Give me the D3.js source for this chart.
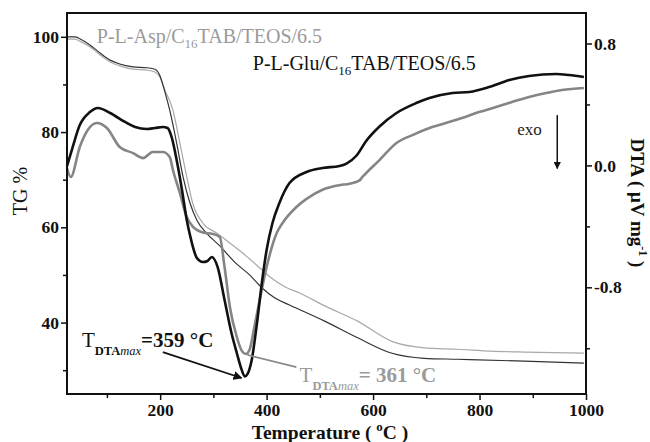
<!DOCTYPE html>
<html lang="en">
<head>
<meta charset="utf-8">
<title>TG / DTA</title>
<script src="https://d3js.org/d3.v7.min.js"></script>
<style>
    body { margin: 0; background: white; }
    text { font-family: "Liberation Serif", "Times New Roman", serif; }
</style>
</head>
<body>
<div id="viz"></div>
<script>

    // data: [temperature in C, value]
    var tgGlu = [[25,100.0],[40,100.0],[49,99.6],[68,98.3],[87,96.6],[106,95.1],[124,94.3],[149,93.7],[175,93.5],
        [190,93.2],[199,92.0],[209,88.4],[218,84.6],[231,77.7],[243,70.6],[256,65.1],[269,61.5],[287,58.8],
        [312,56.1],[340,52.7],[368,50.0],[391,47.3],[415,45.2],[443,43.7],[509,40.3],[571,36.8],[634,33.6],
        [696,32.5],[758,32.3],[884,31.9],[996,31.5]];

    var tgAsp = [[25,99.5],[40,99.5],[49,99.1],[68,97.9],[87,96.2],[106,94.7],[124,93.9],[149,93.2],[175,93.0],
        [190,92.6],[199,91.6],[209,88.8],[224,84.6],[237,77.7],[250,70.6],[261,65.1],[280,60.9],[306,58.8],
        [331,56.7],[355,54.6],[381,52.1],[406,49.6],[434,47.5],[462,46.2],[509,43.5],[571,40.3],[634,36.1],
        [696,34.7],[758,34.4],[822,34.0],[884,33.8],[996,33.6]];

    var dtaGlu = [[25,-0.004],[34,0.101],[49,0.265],[68,0.350],[83,0.377],[106,0.344],[134,0.285],[153,0.252],
        [175,0.239],[190,0.245],[205,0.252],[214,0.245],[222,0.180],[231,0.035],[241,-0.161],[250,-0.358],
        [256,-0.457],[269,-0.608],[280,-0.634],[289,-0.627],[297,-0.601],[308,-0.667],[321,-0.883],[334,-1.100],
        [344,-1.231],[353,-1.34],[359,-1.385],[364,-1.37],[372,-1.277],[381,-1.060],[391,-0.772],[400,-0.555],
        [411,-0.378],[424,-0.247],[443,-0.116],[475,-0.043],[505,-0.017],[537,-0.004],[550,0.012],[569,0.065],
        [587,0.160],[612,0.255],[644,0.344],[681,0.409],[706,0.442],[749,0.475],[781,0.482],[818,0.514],
        [856,0.560],[893,0.587],[944,0.600],[968,0.593],[996,0.580]];

    var dtaAsp = [[25,-0.017],[32,-0.076],[49,0.121],[64,0.232],[81,0.278],[100,0.245],[124,0.121],[149,0.081],
        [168,0.048],[186,0.088],[205,0.088],[218,0.055],[224,-0.030],[237,-0.181],[250,-0.339],[261,-0.40],
        [280,-0.44],[299,-0.45],[312,-0.47],[321,-0.667],[331,-0.929],[344,-1.126],[354,-1.22],[361,-1.238],
        [368,-1.21],[377,-1.060],[387,-0.883],[400,-0.667],[419,-0.444],[430,-0.378],[456,-0.273],[475,-0.22],
        [505,-0.16],[537,-0.13],[556,-0.12],[574,-0.10],[580,-0.076],[612,0.035],[644,0.147],[674,0.199],
        [706,0.245],[737,0.278],[767,0.311],[799,0.350],[831,0.383],[861,0.416],[893,0.449],[925,0.475],
        [955,0.495],[996,0.508]];

    var xMajor = [200, 400, 600, 800, 1000];
    var xMinor = [100, 300, 500, 700, 900];
    var tgMajor = [40, 60, 80, 100];
    var tgMinor = [30, 50, 70, 90];
    var dtaMajor = [0.8, 0.0, -0.8];
    var dtaMinor = [0.4, -0.4, -1.2];

    var width = 650;
    var height = 442;
    var pLeft = 67, pRight = 586, pTop = 13, pBottom = 394;

    var x = d3.scaleLinear().domain([25, 1000]).range([pLeft, pRight]);
    var yTG = d3.scaleLinear().domain([25, 105]).range([pBottom, pTop]);
    var yDTA = d3.scaleLinear().domain([-1.5, 1.0]).range([pBottom, pTop]);

    var svg = d3.select("#viz").append("svg")
        .attr("width", width)
        .attr("height", height);

    svg.append("defs").append("marker")
        .attr("id", "head")
        .attr("viewBox", "0 0 10 10")
        .attr("refX", 9).attr("refY", 5)
        .attr("markerWidth", 5).attr("markerHeight", 5)
        .attr("orient", "auto")
        .append("path")
        .attr("d", "M0,0 L10,5 L0,10 z")
        .attr("fill", "#111");

    // curves
    var lineTG = d3.line().x(d => x(d[0])).y(d => yTG(d[1])).curve(d3.curveMonotoneX);
    var lineDTA = d3.line().x(d => x(d[0])).y(d => yDTA(d[1])).curve(d3.curveMonotoneX);

    svg.append("path").datum(tgAsp).attr("d", lineTG)
        .attr("fill", "none").attr("stroke", "#a8a8a8").attr("stroke-width", 1.2);
    svg.append("path").datum(tgGlu).attr("d", lineTG)
        .attr("fill", "none").attr("stroke", "#333").attr("stroke-width", 1.2);
    svg.append("path").datum(dtaAsp).attr("d", lineDTA)
        .attr("fill", "none").attr("stroke", "#858585").attr("stroke-width", 2.6);
    svg.append("path").datum(dtaGlu).attr("d", lineDTA)
        .attr("fill", "none").attr("stroke", "#111").attr("stroke-width", 2.6);

    // axes
    var fmt = d => d3.format(".1f")(d).replace("\u2212", "-");

    function styleAxis(g) {
        g.select(".domain").remove();
        g.selectAll("line").attr("stroke", "#111").attr("stroke-width", 1.5);
        g.selectAll("text").attr("font-family", "Liberation Serif").attr("font-weight", "bold")
            .attr("font-size", 17.5).attr("fill", "#111");
    }

    svg.append("g").attr("transform", "translate(0," + pBottom + ")")
        .call(d3.axisBottom(x).tickValues(xMajor).tickSize(6).tickPadding(4).tickFormat(d3.format("d")))
        .call(styleAxis);
    svg.append("g").attr("transform", "translate(0," + pBottom + ")")
        .call(d3.axisBottom(x).tickValues(xMinor).tickSize(4).tickFormat(""))
        .call(styleAxis);

    svg.append("g").attr("transform", "translate(" + pLeft + ",0)")
        .call(d3.axisLeft(yTG).tickValues(tgMajor).tickSize(6).tickPadding(2))
        .call(styleAxis);
    svg.append("g").attr("transform", "translate(" + pLeft + ",0)")
        .call(d3.axisLeft(yTG).tickValues(tgMinor).tickSize(4).tickFormat(""))
        .call(styleAxis);

    svg.append("g").attr("transform", "translate(" + pRight + ",0)")
        .call(d3.axisRight(yDTA).tickValues(dtaMajor).tickSize(6).tickPadding(2).tickFormat(fmt))
        .call(styleAxis);
    svg.append("g").attr("transform", "translate(" + pRight + ",0)")
        .call(d3.axisRight(yDTA).tickValues(dtaMinor).tickSize(4).tickFormat(""))
        .call(styleAxis);

    // frame
    svg.append("rect")
        .attr("x", pLeft).attr("y", pTop)
        .attr("width", pRight - pLeft).attr("height", pBottom - pTop)
        .attr("fill", "none").attr("stroke", "#111").attr("stroke-width", 2);

    // axis titles
    svg.append("text")
        .attr("transform", "translate(27,191) rotate(-90)")
        .attr("text-anchor", "middle").attr("font-size", 20).attr("fill", "#111")
        .text("TG %");

    var xt = svg.append("text")
        .attr("x", 330).attr("y", 439)
        .attr("text-anchor", "middle").attr("font-size", 19.5).attr("font-weight", "bold").attr("fill", "#111");
    xt.append("tspan").text("Temperature ( ");
    xt.append("tspan").attr("font-size", 13).attr("dy", -8).text("o");
    xt.append("tspan").attr("dy", 8).text("C )");

    var yt = svg.append("text")
        .attr("transform", "translate(631,203) rotate(90)")
        .attr("text-anchor", "middle").attr("font-size", 19).attr("font-weight", "bold").attr("fill", "#111");
    yt.append("tspan").text("DTA ( \u03bcV mg");
    yt.append("tspan").attr("font-size", 12).attr("dy", -8).text("-1");
    yt.append("tspan").attr("dy", 8).text(" )");

    // series labels
    function sampleLabel(name, tx, tg, color) {
        var t = svg.append("text")
            .attr("x", x(tx)).attr("y", yTG(tg))
            .attr("font-size", 20).attr("fill", color);
        t.append("tspan").text(name + "/C");
        t.append("tspan").attr("font-size", 13).attr("dy", 5).text("16");
        t.append("tspan").attr("dy", -5).text("TAB/TEOS/6.5");
    }
    sampleLabel("P-L-Asp", 81, 98.7, "#9a9a9a");
    sampleLabel("P-L-Glu", 374, 93.0, "#111");

    // exo arrow
    svg.append("text")
        .attr("x", x(871)).attr("y", yDTA(0.2))
        .attr("font-size", 17).attr("fill", "#222")
        .text("exo");
    svg.append("line")
        .attr("x1", x(946)).attr("x2", x(946))
        .attr("y1", yDTA(0.33)).attr("y2", yDTA(-0.02))
        .attr("stroke", "#111").attr("stroke-width", 1.5)
        .attr("marker-end", "url(#head)");

    // peak annotations
    function peakLabel(tx, dta, value, color) {
        var t = svg.append("text")
            .attr("x", x(tx)).attr("y", yDTA(dta))
            .attr("font-size", 21).attr("fill", color);
        t.append("tspan").text("T");
        t.append("tspan").attr("font-size", 12.5).attr("font-weight", "bold").attr("dy", 8).text("DTA");
        t.append("tspan").attr("font-size", 12.5).attr("font-style", "italic").text("max");
        t.append("tspan").attr("font-weight", "bold").attr("dy", -8).text(value);
    }
    peakLabel(53, -1.192, "=359 \u00b0C", "#111");
    peakLabel(462, -1.421, "= 361 \u00b0C", "#9a9a9a");

    svg.append("line")
        .attr("x1", x(205)).attr("y1", yDTA(-1.225))
        .attr("x2", x(353)).attr("y2", yDTA(-1.395))
        .attr("stroke", "#111").attr("stroke-width", 1.8)
        .attr("marker-end", "url(#head)");
    svg.append("line")
        .attr("x1", x(364)).attr("y1", yDTA(-1.244))
        .attr("x2", x(456)).attr("y2", yDTA(-1.323))
        .attr("stroke", "#8a8a8a").attr("stroke-width", 1.8);

</script>
</body>
</html>
